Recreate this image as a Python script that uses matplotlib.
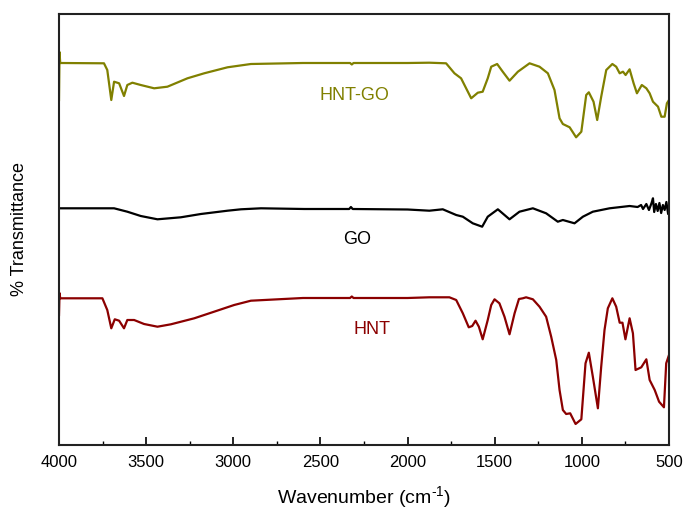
import numpy as np
import matplotlib
matplotlib.use("Agg")
import matplotlib.pyplot as plt
from matplotlib.ticker import MultipleLocator

plt.rcParams['font.family'] = ['Liberation Sans', 'DejaVu Sans']
plt.rcParams['mathtext.fontset'] = 'custom'
plt.rcParams['mathtext.rm'] = 'Liberation Sans'
plt.rcParams['mathtext.it'] = 'Liberation Sans'

# FTIR spectra (transmittance in arbitrary, stacked units)
wn_hntgo = [4000, 3997, 3993, 3742, 3723, 3700, 3684, 3655, 3627, 3608,
            3579, 3531, 3454, 3378, 3263, 3167, 3033, 2899, 2600, 2330,
            2320, 2310, 2000, 1875, 1779, 1731, 1693, 1664, 1635, 1597,
            1569, 1540, 1520, 1486, 1454, 1415, 1367, 1300, 1243, 1195,
            1157, 1128, 1109, 1070, 1033, 1003, 975, 960, 933, 912,
            889, 860, 825, 803, 783, 764, 749, 726, 703, 684,
            656, 630, 611, 592, 563, 544, 525, 512, 500]
t_hntgo = [345, 393, 382, 381.7, 375, 345, 363.3, 361.7, 349, 360,
           362.3, 360, 356.7, 358.3, 366.7, 371.7, 377.7, 381, 382, 382,
           380.5, 382, 382, 382.3, 381.7, 371.7, 366.7, 356.7, 346.7, 352.3,
           353.3, 366.7, 378.3, 381, 373.3, 364.3, 373.3, 381.7, 378.3, 371.7,
           355, 326.7, 321, 317.7, 307.7, 313.3, 350, 352.7, 343.3, 325,
           348.3, 375, 381, 378.3, 371.7, 373.3, 370, 375.7, 361.7, 351.7,
           360, 356.7, 351.7, 343.3, 338.3, 328.3, 328.3, 341.7, 345]

wn_go = [4000, 3684, 3608, 3531, 3435, 3301, 3186, 3033, 2956, 2841,
         2593, 2335, 2325, 2315, 2000, 1875, 1798, 1721, 1683, 1626,
         1572, 1540, 1482, 1415, 1358, 1281, 1205, 1138, 1109, 1042,
         994, 937, 841, 726, 680, 660, 649, 630, 615, 600,
         592, 585, 575, 565, 555, 545, 535, 525, 515, 505,
         500]
t_go = [236.7, 236.7, 233.3, 229, 225.7, 227.7, 231, 234.3, 235.7, 236.7,
        236, 236, 238, 236, 235.5, 234.3, 235.7, 230, 228.3, 221.7,
        218.3, 228.3, 235.7, 225.7, 233.3, 236.7, 231.7, 223.3, 225, 221.7,
        228.3, 233.3, 236.7, 239, 238, 240, 236, 241, 235, 242,
        246.7, 233, 241, 234, 242, 232, 240, 235, 243, 231,
        238]

wn_hnt = [4000, 3997, 3993, 3751, 3723, 3700, 3680, 3655, 3627, 3608,
          3569, 3512, 3435, 3358, 3224, 3110, 2995, 2899, 2600, 2330,
          2320, 2310, 2000, 1875, 1760, 1721, 1683, 1649, 1629, 1610,
          1591, 1569, 1540, 1520, 1501, 1473, 1444, 1415, 1386, 1361,
          1339, 1320, 1281, 1243, 1205, 1176, 1147, 1128, 1109, 1090,
          1067, 1036, 1003, 979, 960, 937, 908, 889, 870, 851,
          825, 803, 783, 767, 750, 726, 707, 692, 659, 630,
          611, 582, 557, 529, 516, 500]
t_hnt = [130, 152, 146.7, 146.7, 135, 116.7, 125.7, 124.3, 116.7, 125,
         125, 121, 118.3, 120.7, 126.7, 133.3, 140, 144.3, 147, 147,
         148.5, 147, 147, 147.7, 147.7, 145, 131.7, 117.7, 119, 124.3,
         118.3, 105.7, 125, 140, 145.7, 141.7, 128.3, 110.7, 131.7, 146,
         146.7, 147.7, 145.7, 138.3, 128.3, 108.3, 85, 55, 35, 31,
         31.7, 21, 25.7, 81.7, 92.3, 68.3, 36.7, 78.3, 115, 136.7,
         146.7, 138.3, 122.3, 122.3, 105.7, 126.7, 111.7, 75, 77.7, 85.7,
         65, 55, 43.3, 37.7, 81.7, 90]

labels = ['HNT-GO', 'GO', 'HNT']
colors = ['#808000', '#000000', '#8b0000']
label_wn = [2302, 2290, 2205]
label_t = [350, 205, 115]

fig = plt.figure(figsize=(6.84, 5.08), dpi=100)
ax = fig.add_axes([59 / 684, 1 - 445 / 508, 610 / 684, 431 / 508])

ax.plot(wn_hntgo, t_hntgo, color=colors[0], lw=1.6)
ax.plot(wn_go, t_go, color=colors[1], lw=1.6)
ax.plot(wn_hnt, t_hnt, color=colors[2], lw=1.6)

for lab, c, x, y in zip(labels, colors, label_wn, label_t):
    ax.text(x, y, lab, color=c, fontsize=13, ha='center', va='center')

ax.set_xlim(4000, 500)
ax.set_ylim(0, 431)
ax.xaxis.set_major_locator(MultipleLocator(500))
ax.xaxis.set_minor_locator(MultipleLocator(250))
ax.tick_params(axis='x', which='major', direction='in', length=6, width=1.2,
               labelsize=12, pad=7, top=False)
ax.tick_params(axis='x', which='minor', direction='in', length=3, width=1.0, top=False)
ax.set_yticks([])

for s in ax.spines.values():
    s.set_linewidth(1.5)
    s.set_color('#222222')

ax.set_xlabel(r'Wavenumber (cm$^{\text{-}1}$)', fontsize=14, labelpad=10)
ax.set_ylabel('% Transmittance', fontsize=13, labelpad=22)

fig.savefig('out.png', dpi=100)
